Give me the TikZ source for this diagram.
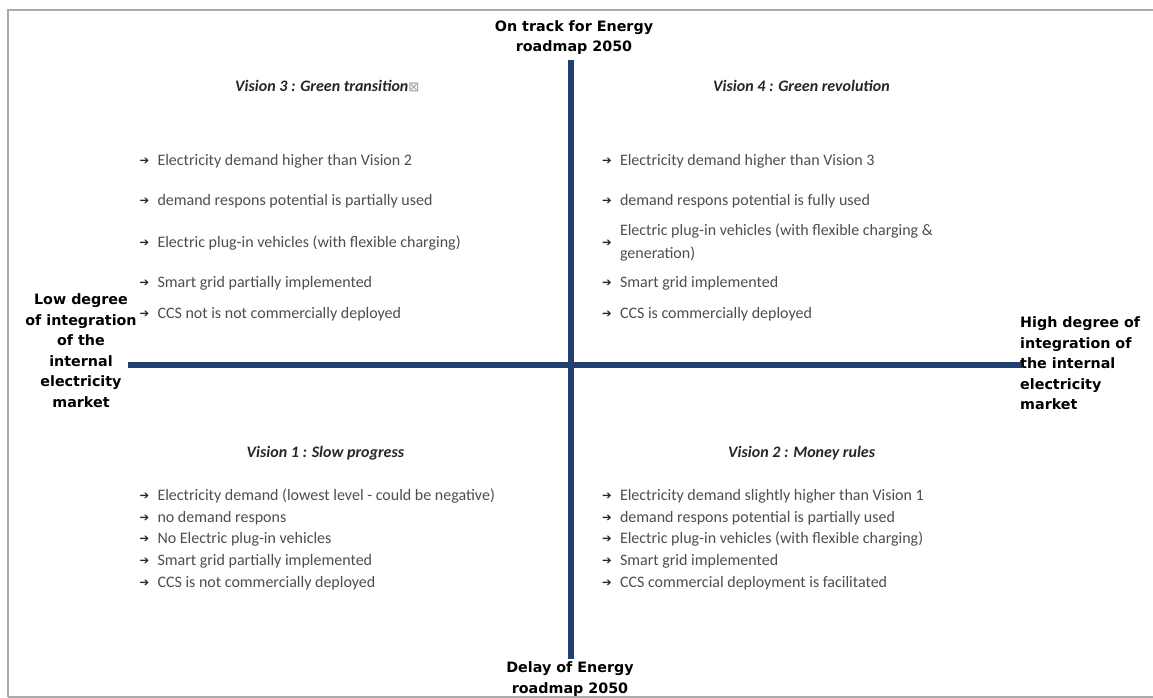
\documentclass[tikz,border=0pt]{standalone}
\usepackage{fontspec}
\setmainfont{Carlito}
\newfontfamily\dejavu{DejaVu Sans}
\definecolor{axiscol}{RGB}{31,64,112}
\definecolor{txt}{RGB}{78,78,78}
\definecolor{hdr}{RGB}{38,38,38}
\definecolor{framecol}{RGB}{170,170,170}
\newcommand{\arw}{\makebox[16.8pt][l]{\hspace{-1pt}\raisebox{0.3pt}{\dejavu\fontsize{11.5}{12}\selectfont\textcolor{hdr}{➔}}}}
\newcommand{\tofu}{{\dejavu\fontsize{13}{13}\selectfont\textcolor{framecol}{⊠}}}
\begin{document}
\begin{tikzpicture}[x=1pt,y=-1pt,
  item/.style={anchor=base west, inner sep=0pt, text=txt, font=\fontsize{16}{19.5}\selectfont},
  head/.style={anchor=base west, inner sep=0pt, text=hdr, font=\fontsize{16}{19.5}\selectfont\bfseries\itshape},
  axlabel/.style={inner sep=0pt, text=black, font=\dejavu\bfseries\fontsize{14.3}{20.5}\selectfont},
  axisline/.style={draw=axiscol, line width=6pt},
  framing/.style={draw=framecol, line width=1.6pt}]
\useasboundingbox (0,0) rectangle (1153,698);
\fill[white] (0,0) rectangle (1153,698);
% frame
\draw[framing] (8,697) -- (8,10) -- (1153,10);
\draw[framing] (8,697) -- (1153,697);
% axes
\coordinate (vt) at (571,60);
\coordinate (vb) at (571,659);
\coordinate (hl) at (128,364.5);
\coordinate (hr) at (1022,364.5);
\draw[axisline] (vt) -- (vb);
\draw[axisline] (hl) -- (hr);
% axis labels
\node[axlabel, align=center] (top) at (574,37.5) {On track for Energy\\roadmap 2050};
\node[axlabel, align=center] (bot) at (570,679) {Delay of Energy\\roadmap 2050};
\node[axlabel, align=center] (lft) at (81,350.5) {Low degree\\of integration\\of the\\internal\\electricity\\market};
\node[axlabel, align=left, anchor=west] (rgt) at (1020,363.5) {High degree of\\integration of\\the internal\\electricity\\market};
% Vision 3
\node[head] (h3) at (235,92) {Vision 3 : Green transition\tofu};
\node[item] (q3a) at (140.5,165) {\arw Electricity demand higher than Vision 2};
\node[item] (q3b) at (140.5,205) {\arw demand respons potential is partially used};
\node[item] (q3c) at (140.5,247) {\arw Electric plug-in vehicles (with flexible charging)};
\node[item] (q3d) at (140.5,287) {\arw Smart grid partially implemented};
\node[item] (q3e) at (140.5,318) {\arw CCS not is not commercially deployed};
% Vision 4
\node[head] (h4) at (713,92) {Vision 4 : Green revolution};
\node[item] (q4a) at (603,165) {\arw Electricity demand higher than Vision 3};
\node[item] (q4b) at (603,205) {\arw demand respons potential is fully used};
\node[item, anchor=west, font=\fontsize{16}{23}\selectfont] (q4c) at (603,242) {\arw\begin{tabular}[c]{@{}l@{}}Electric plug-in vehicles (with flexible charging \&\\generation)\end{tabular}};
\node[item] (q4d) at (603,287) {\arw Smart grid implemented};
\node[item] (q4e) at (603,318) {\arw CCS is commercially deployed};
% Vision 1
\node[head] (h1) at (246.5,457) {Vision 1 : Slow progress};
\node[item] (q1a) at (140.5,500) {\arw Electricity demand (lowest level - could be negative)};
\node[item] (q1b) at (140.5,522) {\arw no demand respons};
\node[item] (q1c) at (140.5,543) {\arw No Electric plug-in vehicles};
\node[item] (q1d) at (140.5,565) {\arw Smart grid partially implemented};
\node[item] (q1e) at (140.5,587) {\arw CCS is not commercially deployed};
% Vision 2
\node[head] (h2) at (728,457) {Vision 2 : Money rules};
\node[item] (q2a) at (603,500) {\arw Electricity demand slightly higher than Vision 1};
\node[item] (q2b) at (603,522) {\arw demand respons potential is partially used};
\node[item] (q2c) at (603,543) {\arw Electric plug-in vehicles (with flexible charging)};
\node[item] (q2d) at (603,565) {\arw Smart grid implemented};
\node[item] (q2e) at (603,587) {\arw CCS commercial deployment is facilitated};
\end{tikzpicture}
\end{document}
